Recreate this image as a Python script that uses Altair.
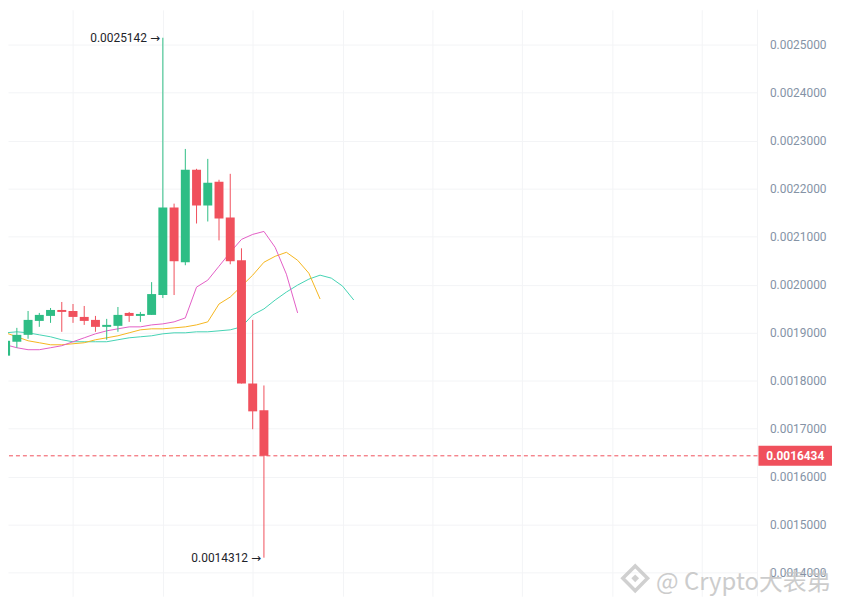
import altair as alt
import pandas as pd

# ---- data ----
opens = [0.0018520, 0.0018810, 0.0018954, 0.0019244, 0.0019348, 0.0019472, 0.0019451, 0.0019327,
         0.0019265, 0.0019120, 0.0019141, 0.0019410, 0.0019348, 0.0019369, 0.0019783, 0.0021605,
         0.0020466, 0.0022391, 0.0021646, 0.0022143, 0.0021398, 0.0020507, 0.0017940, 0.0017381]
highs = [0.0018913, 0.0019099, 0.0019451, 0.0019410, 0.0019513, 0.0019638, 0.0019596, 0.0019555,
         0.0019348, 0.0019286, 0.0019534, 0.0019431, 0.0019431, 0.0020052, 0.0025142, 0.0021687,
         0.0022826, 0.0022412, 0.0022619, 0.0022184, 0.0022308, 0.0020756, 0.0019265, 0.0017899]
lows = [0.0018458, 0.0018685, 0.0018872, 0.0019120, 0.0019203, 0.0019017, 0.0019203, 0.0019161,
        0.0019017, 0.0018851, 0.0019017, 0.0019224, 0.0019224, 0.0019369, 0.0019720, 0.0019783,
        0.0020404, 0.0021273, 0.0021315, 0.0020921, 0.0020424, 0.0017940, 0.0016988, 0.0014312]
closes = [0.0018830, 0.0018954, 0.0019265, 0.0019369, 0.0019472, 0.0019431, 0.0019327, 0.0019244,
          0.0019120, 0.0019161, 0.0019369, 0.0019348, 0.0019389, 0.0019803, 0.0021605, 0.0020487,
          0.0022391, 0.0021646, 0.0022122, 0.0021377, 0.0020487, 0.0017940, 0.0017360, 0.0016434]

pink_line = [0.0018747, 0.0018685, 0.0018644, 0.0018644, 0.0018685, 0.0018727, 0.0018810, 0.0018892,
             0.0018975, 0.0019037, 0.0019079, 0.0019120, 0.0019120, 0.0019161, 0.0019182, 0.0019224,
             0.0019306, 0.0019948, 0.0020093, 0.0020383, 0.0020673, 0.0020942, 0.0021046, 0.0021108,
             0.0020776, 0.0020217, 0.0019410]
orange_line = [0.0018996, 0.0018913, 0.0018830, 0.0018789, 0.0018747, 0.0018747, 0.0018768, 0.0018789,
               0.0018851, 0.0018892, 0.0018934, 0.0018996, 0.0019058, 0.0019079, 0.0019079, 0.0019099,
               0.0019120, 0.0019161, 0.0019224, 0.0019596, 0.0019741, 0.0019969, 0.0020197, 0.0020466,
               0.0020590, 0.0020673, 0.0020507, 0.0020238, 0.0019700]
teal_line = [0.0018996, 0.0019017, 0.0018996, 0.0018954, 0.0018913, 0.0018851, 0.0018810, 0.0018810,
             0.0018810, 0.0018810, 0.0018851, 0.0018892, 0.0018913, 0.0018934, 0.0018975, 0.0018996,
             0.0018996, 0.0019017, 0.0019017, 0.0019037, 0.0019058, 0.0019120, 0.0019369, 0.0019493,
             0.0019679, 0.0019845, 0.0019990, 0.0020114, 0.0020197, 0.0020135, 0.0019969, 0.0019679]

last_price = 0.0016434
y_ticks = [0.0014, 0.0015, 0.0016, 0.0017, 0.0018, 0.0019, 0.0020, 0.0021, 0.0022, 0.0023, 0.0024, 0.0025]
x_grid = [6, 14, 22, 30, 38, 46, 54, 62]

GREEN = "#2ebd85"
RED = "#f0505c"
PINK = "#e35ec6"
ORANGE = "#f5b51e"
TEAL = "#45d3b3"
GRID = "#f3f4f6"

candles = pd.DataFrame({
    "i": list(range(len(opens))),
    "open": opens, "high": highs, "low": lows, "close": closes,
})
candles["dir"] = ["up" if c >= o else "down" for o, c in zip(opens, closes)]

W, H = 754, 590
xs = alt.Scale(domain=[0.655, 66.5], nice=False, zero=False)
ys = alt.Scale(domain=[0.0013509, 0.0025725], nice=False, zero=False)
color = alt.Color("dir:N", scale=alt.Scale(domain=["up", "down"], range=[GREEN, RED]), legend=None)

X_AXIS = alt.Axis(values=x_grid, labels=False, ticks=False, domain=False, grid=True,
                  gridColor=GRID, title=None)
Y_AXIS = alt.Axis(orient="right", values=y_ticks, format=".7f", labelColor="#8593a6",
                  labelFontSize=12, labelFont="Roboto", labelPadding=12, ticks=False,
                  domain=False, grid=True, gridColor=GRID, title=None)


def X(field):
    return alt.X(field, scale=xs, axis=X_AXIS)


def Y(field):
    return alt.Y(field, scale=ys, axis=Y_AXIS)


def line_layer(vals, col):
    df = pd.DataFrame({"i": list(range(len(vals))), "v": vals})
    return alt.Chart(df).mark_line(color=col, strokeWidth=1, clip=True).encode(
        x=X("i:Q"), y=Y("v:Q"))


sep = alt.Chart(pd.DataFrame({"a": [0]})).mark_rule(color=GRID).encode(
    x=alt.value(W), y=alt.value(0), y2=alt.value(H))

price_df = pd.DataFrame({"price": [last_price], "label": [f"{last_price:.7f}"]})
price_line = alt.Chart(price_df).mark_rule(color=RED, strokeDash=[4, 3], strokeWidth=1).encode(
    y=Y("price:Q"))
price_box = alt.Chart(price_df).mark_rule(color=RED, strokeWidth=20, strokeCap="butt", clip=False).encode(
    y=Y("price:Q"), x=alt.value(W + 1), x2=alt.value(W + 75))
price_txt = alt.Chart(price_df).mark_text(color="white", fontWeight="bold", fontSize=12, font="Roboto",
                                          align="center", baseline="middle", clip=False).encode(
    y=Y("price:Q"), x=alt.value(W + 38), text="label:N")

wicks = alt.Chart(candles).mark_rule(strokeWidth=1, clip=True).encode(
    x=X("i:Q"), y=Y("low:Q"), y2="high:Q", color=color)
bodies = alt.Chart(candles).mark_bar(size=9, clip=True).encode(
    x=X("i:Q"), y=Y("open:Q"), y2="close:Q", color=color)

hi_i = highs.index(max(highs))
lo_i = lows.index(min(lows))
ann = pd.DataFrame({
    "i": [hi_i, lo_i],
    "v": [highs[hi_i], lows[lo_i]],
    "num": [f"{highs[hi_i]:.7f}", f"{lows[lo_i]:.7f}"],
    "arrow": ["→", "→"],
})
ann_num = alt.Chart(ann).mark_text(align="right", baseline="middle", dx=-16, fontSize=12,
                                   font="Roboto", color="#1e2329").encode(
    x=X("i:Q"), y=Y("v:Q"), text="num:N")
ann_arrow = alt.Chart(ann).mark_text(align="right", baseline="middle", dx=-3, fontSize=12,
                                     font="DejaVu Sans", color="#1e2329").encode(
    x=X("i:Q"), y=Y("v:Q"), text="arrow:N")

wm_df = pd.DataFrame({"t": ["@ Crypto大表弟"]})
wm_text = alt.Chart(wm_df).mark_text(align="left", baseline="alphabetic", fontSize=24,
                                     font="Noto Sans CJK SC", color="#c4c4c4", opacity=0.85,
                                     clip=False).encode(
    x=alt.value(652), y=alt.value(584), text="t:N")
wm_logo = alt.Chart(wm_df).mark_point(shape="diamond", filled=False, size=620, strokeWidth=3.5,
                                      color="#c8c8c8", opacity=0.85, clip=False).encode(
    x=alt.value(631), y=alt.value(572))
wm_logo2 = alt.Chart(wm_df).mark_point(shape="diamond", filled=True, size=60,
                                       color="#c8c8c8", opacity=0.85, clip=False).encode(
    x=alt.value(631), y=alt.value(572))

chart = alt.layer(
    sep,
    line_layer(teal_line, TEAL), line_layer(orange_line, ORANGE), line_layer(pink_line, PINK),
    price_line, wicks, bodies, ann_num, ann_arrow, price_box, price_txt,
    wm_logo, wm_logo2, wm_text,
).properties(
    width=W, height=H,
    background="white",
    autosize=alt.AutoSizeParams(type="none"),
    padding={"left": 0, "top": 0, "right": 76, "bottom": 0},
).configure_view(strokeWidth=0, strokeOpacity=0)

chart.save("out.html", embed_options={"renderer": "svg", "actions": False})
